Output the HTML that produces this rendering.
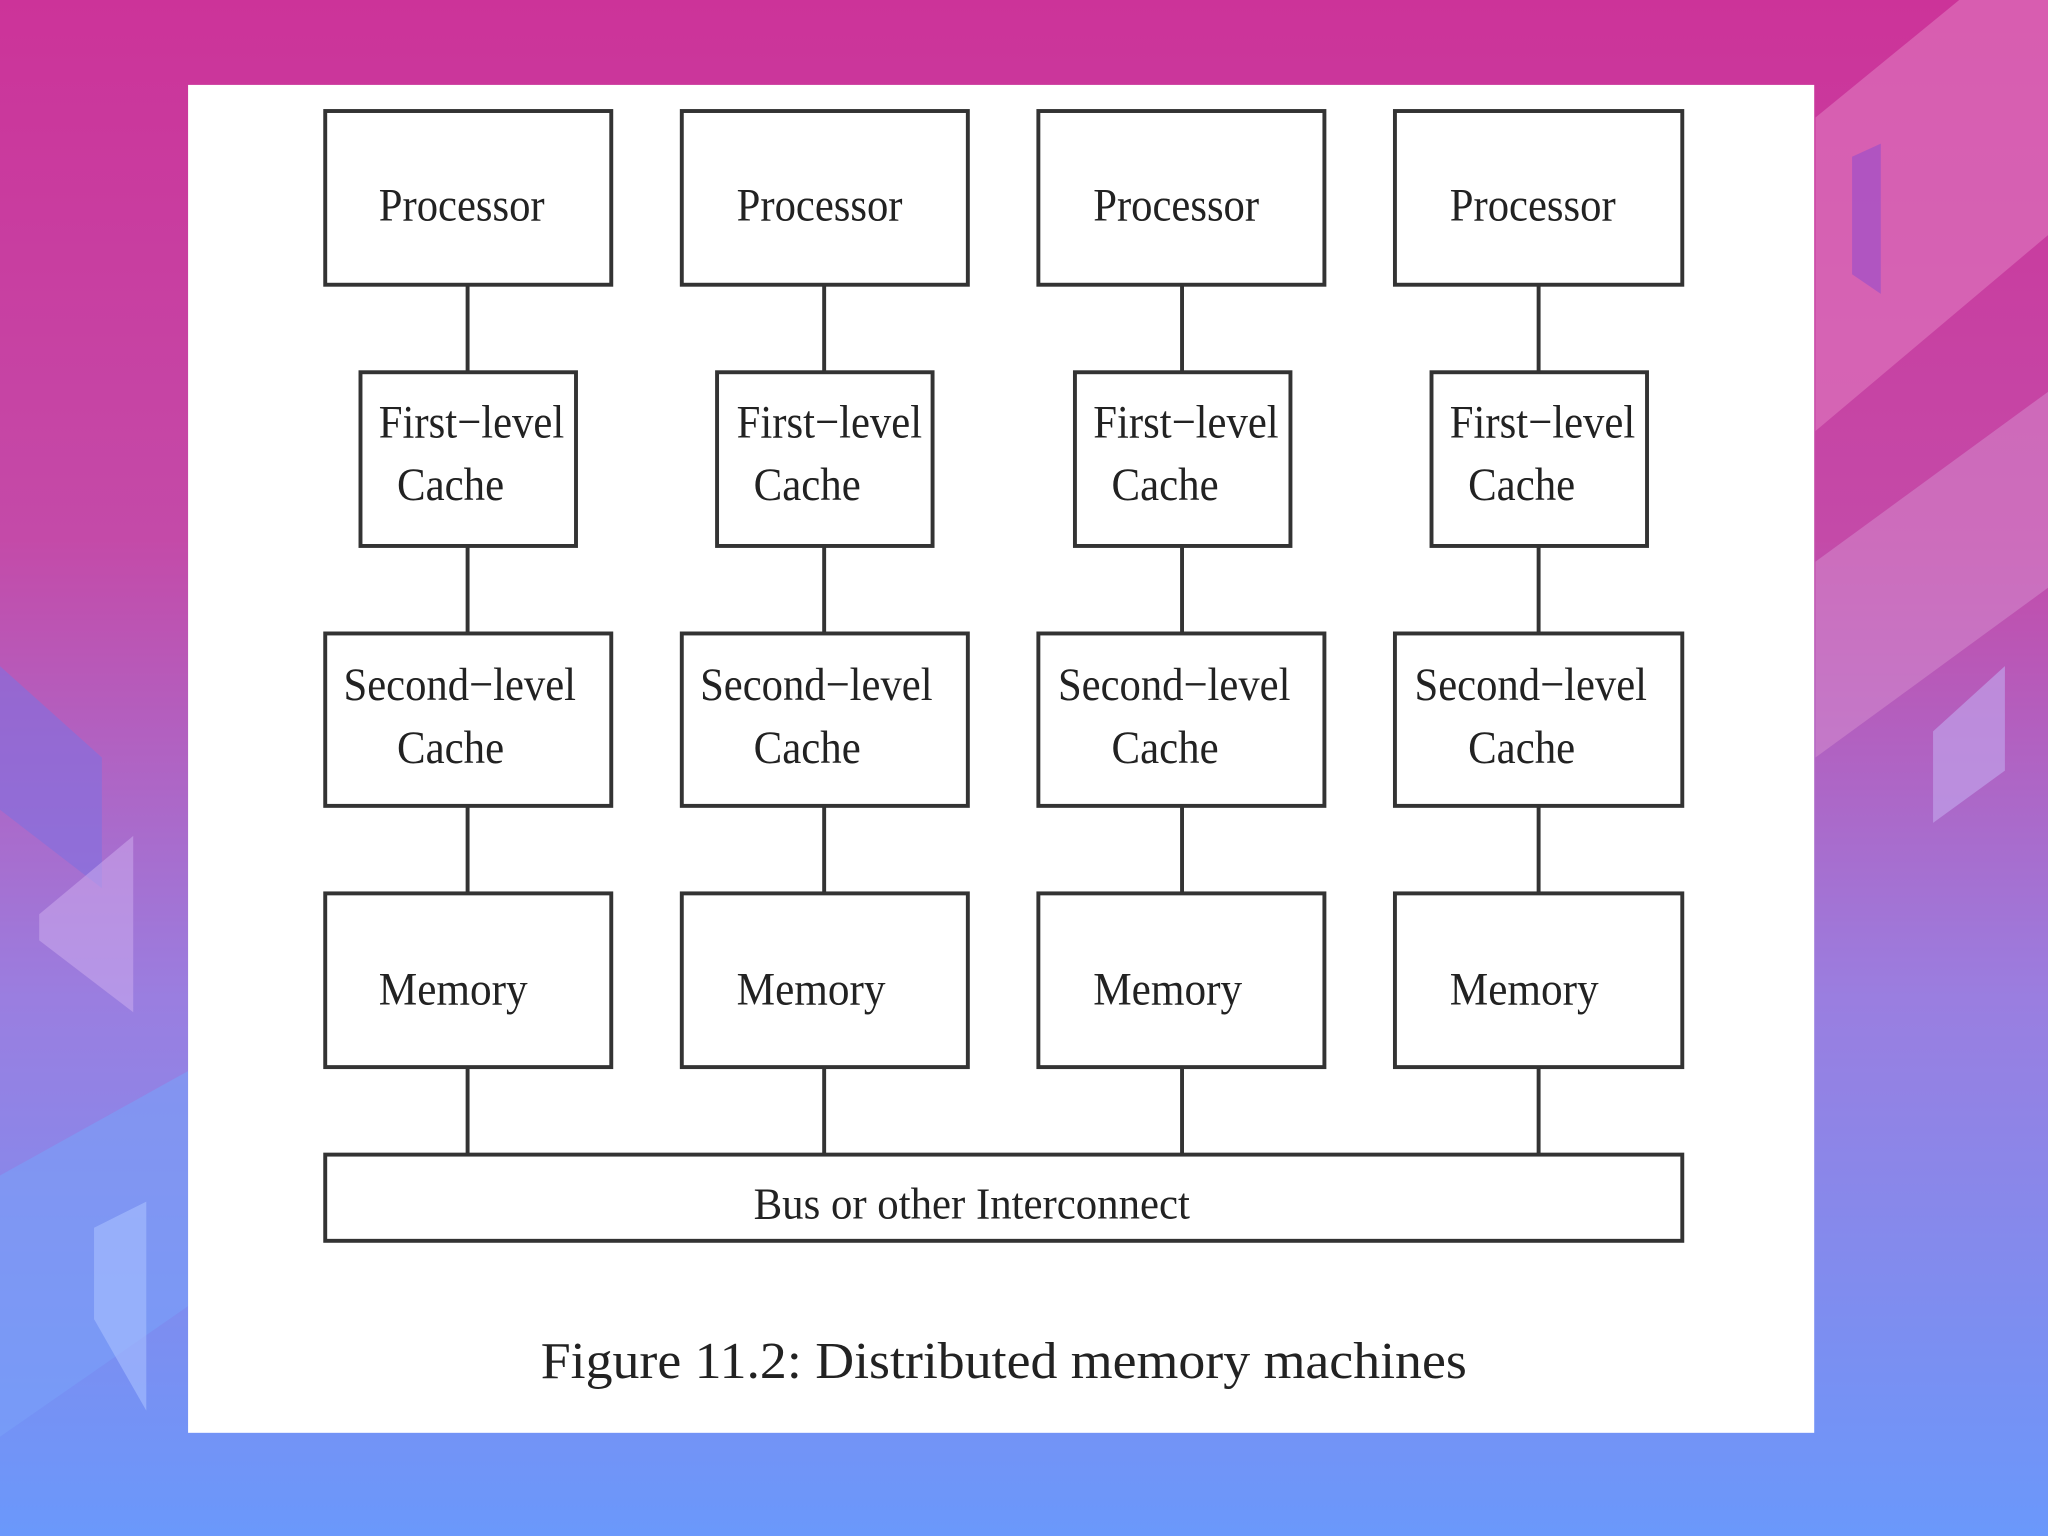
<!DOCTYPE html>
<html><head><meta charset="utf-8"><style>
html,body{margin:0;padding:0;width:2048px;height:1536px;overflow:hidden}
svg{display:block}
</style></head><body>
<svg width="2048" height="1536" viewBox="0 0 1568 1176" xmlns="http://www.w3.org/2000/svg">
<defs>
<linearGradient id="bg" x1="0" y1="0" x2="0" y2="1">
<stop offset="0" stop-color="#cc3399"/>
<stop offset="0.35" stop-color="#c44aa8"/>
<stop offset="0.65" stop-color="#9a7ee0"/>
<stop offset="1" stop-color="#6a98fb"/>
</linearGradient>
</defs>
<rect width="1568" height="1176" fill="url(#bg)"/>
<polygon points="1390,330 1568,180 1568,0 1500,0 1390,90" fill="#e07ac0" opacity="0.6"/>
<polygon points="1418,120 1440,110 1440,225 1418,210" fill="#a050c8" opacity="0.7"/>
<polygon points="1390,580 1568,450 1568,300 1390,430" fill="#d690d0" opacity="0.5"/>
<polygon points="1480,560 1535,510 1535,590 1480,630" fill="#c0a0e8" opacity="0.7"/>
<polygon points="0,510 78,580 78,680 0,620" fill="#8070e0" opacity="0.6"/>
<polygon points="30,700 102,640 102,775 30,720" fill="#d0b0f0" opacity="0.5"/>
<polygon points="0,900 144,820 144,1000 0,1100" fill="#7aa0f8" opacity="0.6"/>
<polygon points="72,940 112,920 112,1080 72,1010" fill="#a8c0ff" opacity="0.6"/>
<rect x="144" y="65" width="1245" height="1032" fill="#ffffff"/>
<g stroke="#333" stroke-width="3" fill="none">
<line x1="358" y1="218" x2="358" y2="884"/>
<line x1="631" y1="218" x2="631" y2="884"/>
<line x1="905" y1="218" x2="905" y2="884"/>
<line x1="1178" y1="218" x2="1178" y2="884"/>
</g>
<g stroke="#333" stroke-width="3" fill="#fff">
<rect x="249" y="85" width="219" height="133"/><rect x="522" y="85" width="219" height="133"/><rect x="795" y="85" width="219" height="133"/><rect x="1068" y="85" width="220" height="133"/>
<rect x="276" y="285" width="165" height="133"/><rect x="549" y="285" width="165" height="133"/><rect x="823" y="285" width="165" height="133"/><rect x="1096" y="285" width="165" height="133"/>
<rect x="249" y="485" width="219" height="132"/><rect x="522" y="485" width="219" height="132"/><rect x="795" y="485" width="219" height="132"/><rect x="1068" y="485" width="220" height="132"/>
<rect x="249" y="684" width="219" height="133"/><rect x="522" y="684" width="219" height="133"/><rect x="795" y="684" width="219" height="133"/><rect x="1068" y="684" width="220" height="133"/>
<rect x="249" y="884" width="1039" height="66"/>
</g>
<g font-family="Liberation Serif, serif" font-size="36" fill="#222">
<text x="290" y="169" textLength="127" lengthAdjust="spacingAndGlyphs">Processor</text>
<text x="564" y="169" textLength="127" lengthAdjust="spacingAndGlyphs">Processor</text>
<text x="837" y="169" textLength="127" lengthAdjust="spacingAndGlyphs">Processor</text>
<text x="1110" y="169" textLength="127" lengthAdjust="spacingAndGlyphs">Processor</text>
<text x="290" y="335" textLength="142" lengthAdjust="spacingAndGlyphs">First−level</text>
<text x="564" y="335" textLength="142" lengthAdjust="spacingAndGlyphs">First−level</text>
<text x="837" y="335" textLength="142" lengthAdjust="spacingAndGlyphs">First−level</text>
<text x="1110" y="335" textLength="142" lengthAdjust="spacingAndGlyphs">First−level</text>
<text x="304" y="383" textLength="82" lengthAdjust="spacingAndGlyphs">Cache</text>
<text x="577" y="383" textLength="82" lengthAdjust="spacingAndGlyphs">Cache</text>
<text x="851" y="383" textLength="82" lengthAdjust="spacingAndGlyphs">Cache</text>
<text x="1124" y="383" textLength="82" lengthAdjust="spacingAndGlyphs">Cache</text>
<text x="263" y="536" textLength="178" lengthAdjust="spacingAndGlyphs">Second−level</text>
<text x="536" y="536" textLength="178" lengthAdjust="spacingAndGlyphs">Second−level</text>
<text x="810" y="536" textLength="178" lengthAdjust="spacingAndGlyphs">Second−level</text>
<text x="1083" y="536" textLength="178" lengthAdjust="spacingAndGlyphs">Second−level</text>
<text x="304" y="584" textLength="82" lengthAdjust="spacingAndGlyphs">Cache</text>
<text x="577" y="584" textLength="82" lengthAdjust="spacingAndGlyphs">Cache</text>
<text x="851" y="584" textLength="82" lengthAdjust="spacingAndGlyphs">Cache</text>
<text x="1124" y="584" textLength="82" lengthAdjust="spacingAndGlyphs">Cache</text>
<text x="290" y="769" textLength="114" lengthAdjust="spacingAndGlyphs">Memory</text>
<text x="564" y="769" textLength="114" lengthAdjust="spacingAndGlyphs">Memory</text>
<text x="837" y="769" textLength="114" lengthAdjust="spacingAndGlyphs">Memory</text>
<text x="1110" y="769" textLength="114" lengthAdjust="spacingAndGlyphs">Memory</text>
<text x="577" y="933" font-size="34" textLength="334" lengthAdjust="spacingAndGlyphs">Bus or other Interconnect</text>
<text x="414" y="1055" font-size="40" textLength="709" lengthAdjust="spacingAndGlyphs">Figure 11.2: Distributed memory machines</text>
</g>
</svg>
</body></html>
